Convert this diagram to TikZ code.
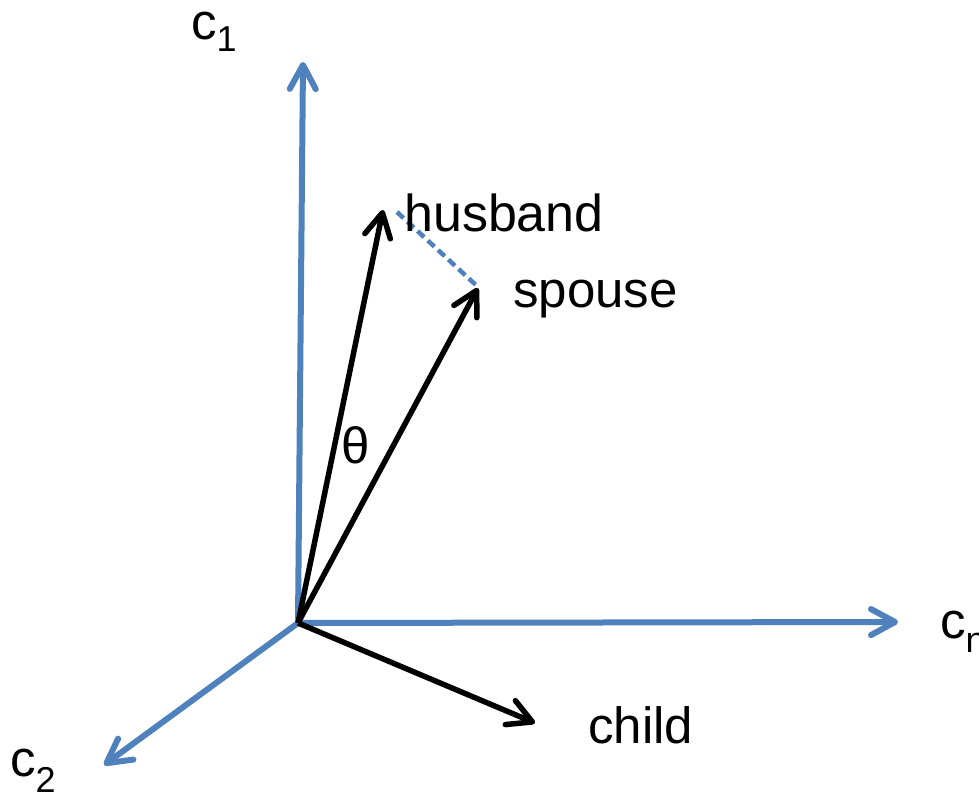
\documentclass[tikz,border=0pt]{standalone}
\usepackage{fontspec}
\setmainfont{Liberation Sans}
\usetikzlibrary{arrows.meta}
\definecolor{axisblue}{RGB}{79,129,189}
\tikzset{
  barbtip/.style={-{Straight Barb[length=24pt,width=26pt,line cap=round,line join=round]}},
  axisline/.style={draw=axisblue, line width=6pt, barbtip},
  vecline/.style={draw=black, line width=5.5pt, barbtip},
  dashline/.style={draw=axisblue, line width=4.5pt, dash pattern=on 9pt off 5pt},
  lbl/.style={anchor=base west, inner sep=0pt, font=\fontsize{51}{60}\selectfont},
}
\newcommand{\subtxt}[2]{\raisebox{-#1}{\fontsize{36}{40}\selectfont #2}}
\begin{document}
\begin{tikzpicture}[x=1pt,y=-1pt]
  \useasboundingbox (0,0) rectangle (979,797);
  \clip (0,0) rectangle (979,797);
  % coordinates
  \coordinate (O) at (298,623);
  \coordinate (c1tip) at (303,62);
  \coordinate (cntip) at (898,622);
  \coordinate (c2tip) at (104,765);
  \coordinate (htip) at (383,210);
  \coordinate (stip) at (478,288);
  \coordinate (ctip) at (535,723);
  \coordinate (dA) at (397,212);
  \coordinate (dB) at (478,287);
  % axes
  \draw[axisline] (O) -- (c1tip);
  \draw[axisline] (O) -- (cntip);
  \draw[axisline] (O) -- (c2tip);
  % vectors
  \draw[vecline] (O) -- (htip);
  \draw[vecline] (O) -- (stip);
  \draw[vecline] (O) -- (ctip);
  % dashed
  \draw[dashline] (dA) -- (dB);
  % labels
  \node[lbl] (c1lbl) at (191,40) {c\subtxt{12pt}{1}};
  \node[lbl] (c2lbl) at (10,776) {c\subtxt{16pt}{2}};
  \node[lbl] (cnlbl) at (940,638) {c\subtxt{14pt}{n}};
  \node[lbl, font=\fontsize{52}{60}\selectfont] (husband) at (404,231) {husband};
  \node[lbl] (spouse) at (513,307) {spouse};
  \node[lbl] (child) at (588,743) {child};
  \node[lbl] (theta) at (341,463) {θ};
\end{tikzpicture}
\end{document}
